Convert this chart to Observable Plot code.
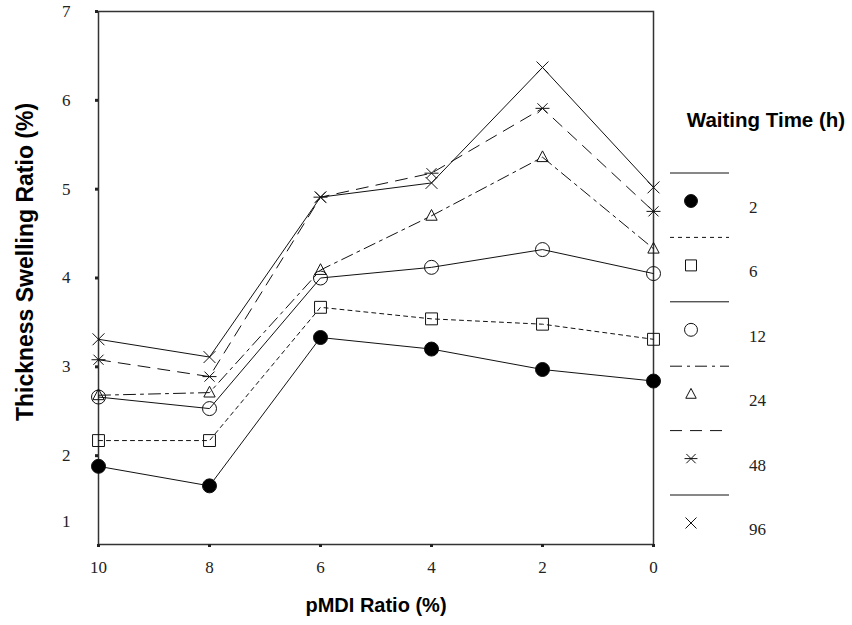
<!DOCTYPE html>
<html>
<head>
<meta charset="utf-8">
<script src="https://cdn.jsdelivr.net/npm/d3@7"></script>
<script src="https://cdn.jsdelivr.net/npm/@observablehq/plot@0.6"></script>
<style>
  html, body { margin: 0; padding: 0; background: #fff; }
  #wrap { position: relative; width: 852px; height: 625px; }
  #wrap svg { position: absolute; left: 0; top: 0; }
</style>
</head>
<body>
<div id="wrap"></div>
<script>
// ---- data ----
const pmdi = [10, 8, 6, 4, 2, 0];
const waitingTimes = ["2", "6", "12", "24", "48", "96"];
const ts2  = [1.88, 1.66, 3.33, 3.20, 2.97, 2.84];
const ts6  = [2.17, 2.17, 3.67, 3.54, 3.48, 3.31];
const ts12 = [2.66, 2.53, 4.00, 4.12, 4.32, 4.05];
const ts24 = [2.68, 2.71, 4.09, 4.70, 5.36, 4.33];
const ts48 = [3.08, 2.89, 4.91, 5.18, 5.91, 4.75];
const ts96 = [3.31, 3.11, 4.91, 5.07, 6.37, 5.02];
const xTicks = [10, 8, 6, 4, 2, 0];
const yTicks = [1, 2, 3, 4, 5, 6, 7];
const xTitle = "pMDI Ratio (%)";
const yTitle = "Thickness Swelling Ratio (%)";
const legendTitle = "Waiting Time (h)";

// ---- symbols (custom, outline style like the original) ----
const rad = size => Math.sqrt(size / Math.PI);
const symCircle = {draw(c, s) { const r = rad(s); c.moveTo(r, 0); c.arc(0, 0, r, 0, 2 * Math.PI); }};
const symSquare = {draw(c, s) { const r = rad(s) * 0.85; c.rect(-r, -r, 2 * r, 2 * r); }};
const symTriangle = {draw(c, s) { const r = rad(s) * 0.9; c.moveTo(0, -r); c.lineTo(r * 0.9, r * 0.7); c.lineTo(-r * 0.9, r * 0.7); c.closePath(); }};
const symAsterisk = {draw(c, s) { const r = rad(s); const d = r * 0.72;
  c.moveTo(-r, 0); c.lineTo(r, 0);
  c.moveTo(-d, -d); c.lineTo(d, d);
  c.moveTo(d, -d); c.lineTo(-d, d); }};
const symTimes = {draw(c, s) { const d = rad(s) * 0.85;
  c.moveTo(-d, -d); c.lineTo(d, d);
  c.moveTo(d, -d); c.lineTo(-d, d); }};

const seriesValues = [ts2, ts6, ts12, ts24, ts48, ts96];
const seriesSymbol = [symCircle, symSquare, symCircle, symTriangle, symAsterisk, symTimes];
const seriesFill   = ["black", "none", "none", "none", "none", "none"];
const seriesDash   = [null, "4,4", null, "12,5,3,5", "12,8", null];

const series = waitingTimes.map((name, i) => ({
  name,
  symbol: seriesSymbol[i],
  fill: seriesFill[i],
  dash: seriesDash[i],
  data: pmdi.map((x, j) => ({x, y: seriesValues[i][j], series: name}))
}));

const serif = "'Liberation Serif', 'Times New Roman', serif";
const sans = "'Liberation Sans', Arial, Helvetica, sans-serif";

const lineMarks = series.map(s => Plot.line(s.data, {
  x: "x", y: "y", stroke: "#111", strokeWidth: 1,
  strokeDasharray: s.dash || undefined
}));
const dotMarks = series.map(s => Plot.dot(s.data, {
  x: "x", y: "y", r: 7, symbol: s.symbol,
  fill: s.fill, stroke: "#111", strokeWidth: 1
}));

const chart = Plot.plot({
  width: 852,
  height: 625,
  marginLeft: 98,
  marginRight: 199,
  marginTop: 11,
  marginBottom: 81,
  x: {domain: [10, 0]},
  y: {domain: [1, 7]},
  style: {fontFamily: serif, fontSize: "17px", color: "#222", background: "white"},
  marks: [
    Plot.frame({stroke: "#333", strokeWidth: 1.5}),
    Plot.axisX({ticks: xTicks, tickSize: 3, strokeWidth: 3, tickPadding: 13, label: null, fontSize: 17, tickFormat: d => String(d)}),
    Plot.axisY({ticks: yTicks.filter(d => d !== 1), tickSize: 3, strokeWidth: 3, tickPadding: 25, label: null, fontSize: 17, tickFormat: d => String(d)}),
    Plot.text(yTicks.filter(d => d === 1), {y: d => d, text: d => String(d), frameAnchor: "left", dx: -28, dy: -23, textAnchor: "end", fontSize: 17}),
    ...lineMarks,
    ...dotMarks
  ]
});

const wrap = document.getElementById("wrap");
wrap.appendChild(chart);

// ---- overlay: axis titles and legend ----
const ov = d3.select(wrap).append("svg")
  .attr("width", 852).attr("height", 625)
  .style("pointer-events", "none");

ov.append("text")
  .attr("transform", "translate(33,262) rotate(-90)")
  .attr("text-anchor", "middle")
  .attr("font-family", sans).attr("font-weight", "bold").attr("font-size", 23)
  .attr("fill", "#000")
  .text(yTitle);

ov.append("text")
  .attr("x", 376).attr("y", 612)
  .attr("text-anchor", "middle")
  .attr("font-family", sans).attr("font-weight", "bold").attr("font-size", 20)
  .attr("fill", "#000")
  .text(xTitle);

ov.append("text")
  .attr("x", 766).attr("y", 127)
  .attr("text-anchor", "middle")
  .attr("font-family", sans).attr("font-weight", "bold").attr("font-size", 20.5)
  .attr("fill", "#000")
  .text(legendTitle);

const lg = ov.append("g");
series.forEach((s, i) => {
  const ly = 173 + i * 64.4;
  lg.append("line")
    .attr("x1", 670).attr("x2", 729).attr("y1", ly).attr("y2", ly)
    .attr("stroke", "#111").attr("stroke-width", 1)
    .attr("stroke-dasharray", s.dash || null);
  lg.append("path")
    .attr("transform", `translate(691,${ly + 28})`)
    .attr("d", d3.symbol(s.symbol, 49 * Math.PI * 0.85)())
    .attr("fill", s.fill).attr("stroke", "#111").attr("stroke-width", 1);
  lg.append("text")
    .attr("x", 749).attr("y", ly + 40)
    .attr("font-family", serif).attr("font-size", 17)
    .attr("fill", "#222")
    .text(s.name);
});
</script>
</body>
</html>
